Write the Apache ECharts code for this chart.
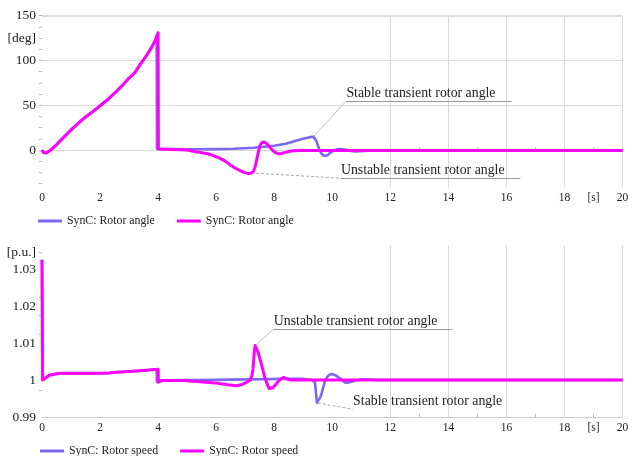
<!DOCTYPE html>
<html><head><meta charset="utf-8">
<script src="https://cdn.jsdelivr.net/npm/echarts@6/dist/echarts.min.js"></script>
<style>html,body{margin:0;padding:0;background:#fff}#c{width:640px;height:456px}</style>
</head><body><div id="c"></div>
<script>
// ---------- data ----------
// Top: rotor angle [deg]
const tAngleStable = [0, 0.05, 0.1, 0.15, 0.2, 0.3, 0.4, 0.5, 0.6, 0.8, 1.0, 1.25, 1.5, 1.75, 2.0, 2.25, 2.5, 2.75, 3.0, 3.2, 3.4, 3.6, 3.8, 3.9, 3.95, 3.96, 4.5, 5, 6, 6.6, 7.3, 8, 8.4, 8.9, 9.1, 9.25, 9.35, 9.4, 9.45, 9.5, 9.55, 9.62, 9.7, 9.77, 9.85, 9.95, 10.05, 10.15, 10.27, 10.4, 10.5, 10.65, 10.8, 10.95, 11.1, 11.4, 20];
const angleStable  = [0, -2.5, -3.5, -3.2, -2.3, 0, 3, 6, 9.5, 16, 22.5, 30, 37, 43, 49.5, 56, 63.5, 71.5, 80.5, 86.5, 96.5, 105.5, 116, 122.5, 127, 1.5, 1.2, 1.0, 1.1, 1.5, 2.6, 4.8, 7.2, 11.8, 13.5, 14.5, 15, 14, 10.5, 5.5, 1, -3.5, -6, -6.5, -5.3, -2.5, -0.3, 0.8, 1.1, 0.7, 0.1, -1.0, -1.5, -1.2, -0.8, -0.5, -0.5];
const tAngleUnstable = [0, 0.05, 0.1, 0.15, 0.2, 0.3, 0.4, 0.5, 0.6, 0.8, 1.0, 1.25, 1.5, 1.75, 2.0, 2.25, 2.5, 2.75, 3.0, 3.2, 3.4, 3.6, 3.8, 3.9, 4.0, 4.01, 4.5, 5.0, 5.3, 5.5, 5.7, 5.85, 6.0, 6.15, 6.3, 6.5, 6.65, 6.83, 6.95, 7.1, 7.2, 7.28, 7.33, 7.38, 7.42, 7.47, 7.51, 7.56, 7.63, 7.7, 7.78, 7.88, 7.97, 8.05, 8.15, 8.25, 8.35, 8.5, 8.65, 9, 20];
const angleUnstable  = [0, -2.5, -3.5, -3.2, -2.3, 0, 3, 6, 9.5, 16, 22.5, 30, 37, 43, 49.5, 56, 63.5, 71.5, 80.5, 86.5, 96.5, 105.5, 116, 122.5, 131, 1.2, 0.8, 0, -1.9, -2.8, -4, -5.5, -7.4, -9.5, -12, -16.8, -20, -23, -24.8, -26, -25.8, -24, -20, -13, -7, 0, 5, 8, 9, 8.3, 6, 2, -1, -3, -4, -3.8, -2.8, -1.5, -0.8, -0.5, -0.5];
// Bottom: rotor speed [p.u.]
const tSpeedStable = [0, 0.02, 0.05, 0.1, 0.15, 0.25, 0.38, 0.5, 0.7, 2, 2.3, 2.57, 3.0, 3.37, 3.7, 3.95, 3.96, 4.1, 4.4, 4.86, 5.5, 6.5, 7.5, 8.2, 8.9, 9.13, 9.3, 9.4, 9.44, 9.47, 9.52, 9.6, 9.68, 9.76, 9.84, 9.92, 9.99, 10.1, 10.2, 10.28, 10.37, 10.45, 10.55, 10.65, 10.85, 11.1, 11.5, 20];
const speedStable  = [1.0325, 1.0, 0.9998, 1.0004, 1.0009, 1.0013, 1.0015, 1.0017, 1.0018, 1.0018, 1.0019, 1.0021, 1.0023, 1.0025, 1.0027, 1.0029, 0.9995, 0.9998, 0.9999, 1.0, 1.0, 1.0001, 1.0002, 1.0003, 1.0003, 1.0002, 1.0, 0.9994, 0.9965, 0.9939, 0.9941, 0.9955, 0.9978, 1.0, 1.001, 1.0015, 1.0016, 1.0013, 1.0008, 1.0004, 0.9997, 0.9993, 0.9993, 0.9995, 1.0, 1.0002, 1.0, 1.0];
const tSpeedUnstable = [0, 0.02, 0.05, 0.1, 0.15, 0.25, 0.38, 0.5, 0.7, 2, 2.3, 2.57, 3.0, 3.37, 3.7, 4.0, 4.01, 4.1, 4.17, 4.86, 5.45, 6.07, 6.4, 6.71, 6.9, 7.05, 7.17, 7.23, 7.27, 7.31, 7.34, 7.38, 7.43, 7.52, 7.6, 7.68, 7.75, 7.82, 7.88, 7.95, 8.05, 8.15, 8.25, 8.32, 8.42, 8.55, 20];
const speedUnstable  = [1.0325, 1.0, 0.9998, 1.0004, 1.0009, 1.0013, 1.0015, 1.0017, 1.0018, 1.0018, 1.0019, 1.0021, 1.0023, 1.0025, 1.0027, 1.0029, 0.9994, 0.9998, 0.9999, 0.9999, 0.9995, 0.9991, 0.9987, 0.99846, 0.9988, 0.9994, 1.0, 1.0012, 1.003, 1.0075, 1.0093, 1.009, 1.0078, 1.0054, 1.003, 1.0005, 0.9991, 0.9977, 0.9975, 0.9979, 0.9988, 0.9997, 1.0004, 1.0007, 1.0004, 1.0, 1.0];

// axis ticks / labels
const xLabelValues = [0, 2, 4, 6, 8, 10, 12, 14, 16, 18, 19, 20];
const xUnitAt = 19;
const xMinorTicks = [13, 15, 17, 19];
const xGridValues = [12, 14, 16, 18, 20];
const yAngleLabels = [0, 50, 100, 125, 150];
const yAngleUnitAt = 125;
const yAngleTicks = [-37.5, -25, -12.5, 0, 12.5, 25, 37.5, 50, 62.5, 75, 87.5, 100, 112.5, 125, 137.5, 150];
const yAngleGrid = [0, 50, 100];
const yAngleTop = 150;
const ySpeedLabels = [0.99, 1, 1.01, 1.02, 1.03, 1.0345];
const ySpeedUnitAt = 1.0345;
const ySpeedTicks = [0.9973, 1.0124, 1.0174, 1.0224, 1.0345];

const legendAngle = 'SynC: Rotor angle';
const legendSpeed = 'SynC: Rotor speed';
const noteStable = 'Stable transient rotor angle';
const noteUnstable = 'Unstable transient rotor angle';

// ---------- chart ----------
const FONT = 'Liberation Serif';
const BLUE = '#7b68ee', MAG = '#ff00ff';
const zip = (a, b) => a.map((v, i) => [v, b[i]]);
const chart = echarts.init(document.getElementById('c'), null, {renderer: 'canvas'});

function xAxis(gi, lineColor) {
  return {
    type: 'value', gridIndex: gi, min: 0, max: 20,
    axisLine: {show: true, lineStyle: {color: lineColor, width: 1}},
    axisTick: {show: true, customValues: xMinorTicks, inside: true, length: 3, lineStyle: {color: '#bbb'}},
    axisLabel: {customValues: xLabelValues, margin: 5, fontFamily: FONT, fontSize: 11.5, color: '#222',
      formatter: v => (v === xUnitAt ? '[s]' : String(v))},
    splitLine: {show: false}
  };
}
function yAxis(gi, min, max, labels, ticks, unitAt, unit) {
  return {
    type: 'value', gridIndex: gi, min: min, max: max,
    axisLine: {show: false},
    axisTick: {show: true, customValues: ticks, length: 3, lineStyle: {color: '#bbb'}},
    axisLabel: {customValues: labels, margin: 6, fontFamily: FONT, fontSize: 13.5, color: '#222',
      formatter: v => (Math.abs(v - unitAt) < 1e-9 ? unit : String(+v.toFixed(4)))},
    splitLine: {show: false}
  };
}
const seg = (a, b, style, label) => [Object.assign({coord: a, lineStyle: style}, label ? {label: label} : {}), {coord: b}];
const noteLabel = (txt) => ({show: true, position: 'insideStartTop', formatter: txt, distance: 0.5,
  fontFamily: FONT, fontSize: 13.8, color: '#222'});
const solidLight = {color: '#c4c4c4', width: 1, type: 'solid'};
const dashed = {color: '#aaa', width: 1, type: [3, 2]};
const under = {color: '#999', width: 1, type: 'solid'};
const hidden = {color: 'rgba(0,0,0,0)', width: 1, type: 'solid'};

const gridStyle = {color: '#d9d9d9', width: 1, type: 'solid'};
const legendText = {fontFamily: FONT, fontSize: 11.8, color: '#222'};

const option = {
  animation: false,
  backgroundColor: '#fff',
  grid: [
    {left: 42, right: 17.4, top: 15.7, height: 171.6},
    {left: 42, right: 17.4, top: 245, height: 172}
  ],
  xAxis: [xAxis(0, '#333'), xAxis(1, '#ccc')],
  yAxis: [
    yAxis(0, -41.5, 150, yAngleLabels, yAngleTicks, yAngleUnitAt, '[deg]'),
    yAxis(1, 0.99, 1.0365, ySpeedLabels, ySpeedTicks, ySpeedUnitAt, '[p.u.]')
  ],
  legend: [
    {data: [{name: 'a1', icon: 'rect'}, {name: 'a2', icon: 'rect'}], left: 33, top: 210, itemWidth: 24, itemHeight: 3, itemGap: 22,
     formatter: () => legendAngle, textStyle: legendText},
    {data: [{name: 's1', icon: 'rect'}, {name: 's2', icon: 'rect'}], left: 35, top: 440, itemWidth: 24, itemHeight: 3, itemGap: 22,
     formatter: () => legendSpeed, textStyle: legendText}
  ],
  series: [
    // background grid lines (drawn first)
    {type: 'line', name: 'gridTop', xAxisIndex: 0, yAxisIndex: 0, data: [], z: 1, silent: true,
     markLine: {z: 1, silent: true, symbol: ['none', 'none'], label: {show: false}, lineStyle: gridStyle,
       data: yAngleGrid.map(v => ({yAxis: v})).concat([{yAxis: yAngleTop, lineStyle: {color: '#dcdcdc', width: 2.2, type: 'solid'}}])
         .concat(xGridValues.map(v => ({xAxis: v})))}},
    {type: 'line', name: 'gridBottom', xAxisIndex: 1, yAxisIndex: 1, data: [], z: 1, silent: true,
     markLine: {z: 1, silent: true, symbol: ['none', 'none'], label: {show: false}, lineStyle: gridStyle,
       data: xGridValues.map(v => ({xAxis: v}))}},
    // annotations
    {type: 'line', name: 'noteTop', xAxisIndex: 0, yAxisIndex: 0, data: [], z: 1, silent: true,
     markLine: {z: 1, silent: true, symbol: ['none', 'none'], label: {show: false},
       data: [
         seg([9.35, 15], [10.47, 54.5], solidLight),
         seg([10.47, 54.5], [16.17, 54.5], under, noteLabel(noteStable)),
         seg([7.2, -25.5], [10.28, -31.3], dashed),
         seg([10.28, -31.3], [16.48, -31.3], under, noteLabel(noteUnstable))
       ]}},
    {type: 'line', name: 'noteBottom', xAxisIndex: 1, yAxisIndex: 1, data: [], z: 1, silent: true,
     markLine: {z: 1, silent: true, symbol: ['none', 'none'], label: {show: false},
       data: [
         seg([7.34, 1.0093], [7.97, 1.0137], solidLight),
         seg([7.97, 1.0137], [14.14, 1.0137], under, noteLabel(noteUnstable)),
         seg([9.5, 0.9938], [10.7, 0.9921], dashed),
         seg([10.7, 0.9921], [15.9, 0.9921], hidden, noteLabel(noteStable))
       ]}},
    // data
    {type: 'line', name: 'a1', xAxisIndex: 0, yAxisIndex: 0, data: zip(tAngleStable, angleStable),
     showSymbol: false, symbol: 'none', z: 10, lineStyle: {color: BLUE, width: 2.6, join: 'round'}, itemStyle: {color: BLUE}},
    {type: 'line', name: 'a2', xAxisIndex: 0, yAxisIndex: 0, data: zip(tAngleUnstable, angleUnstable),
     showSymbol: false, symbol: 'none', z: 11, lineStyle: {color: MAG, width: 3, join: 'round'}, itemStyle: {color: MAG}},
    {type: 'line', name: 's1', xAxisIndex: 1, yAxisIndex: 1, data: zip(tSpeedStable, speedStable),
     showSymbol: false, symbol: 'none', z: 10, lineStyle: {color: BLUE, width: 2.6, join: 'round'}, itemStyle: {color: BLUE}},
    {type: 'line', name: 's2', xAxisIndex: 1, yAxisIndex: 1, data: zip(tSpeedUnstable, speedUnstable),
     showSymbol: false, symbol: 'none', z: 11, lineStyle: {color: MAG, width: 3, join: 'round'}, itemStyle: {color: MAG}}
  ]
};
chart.setOption(option);
</script>
</body></html>
